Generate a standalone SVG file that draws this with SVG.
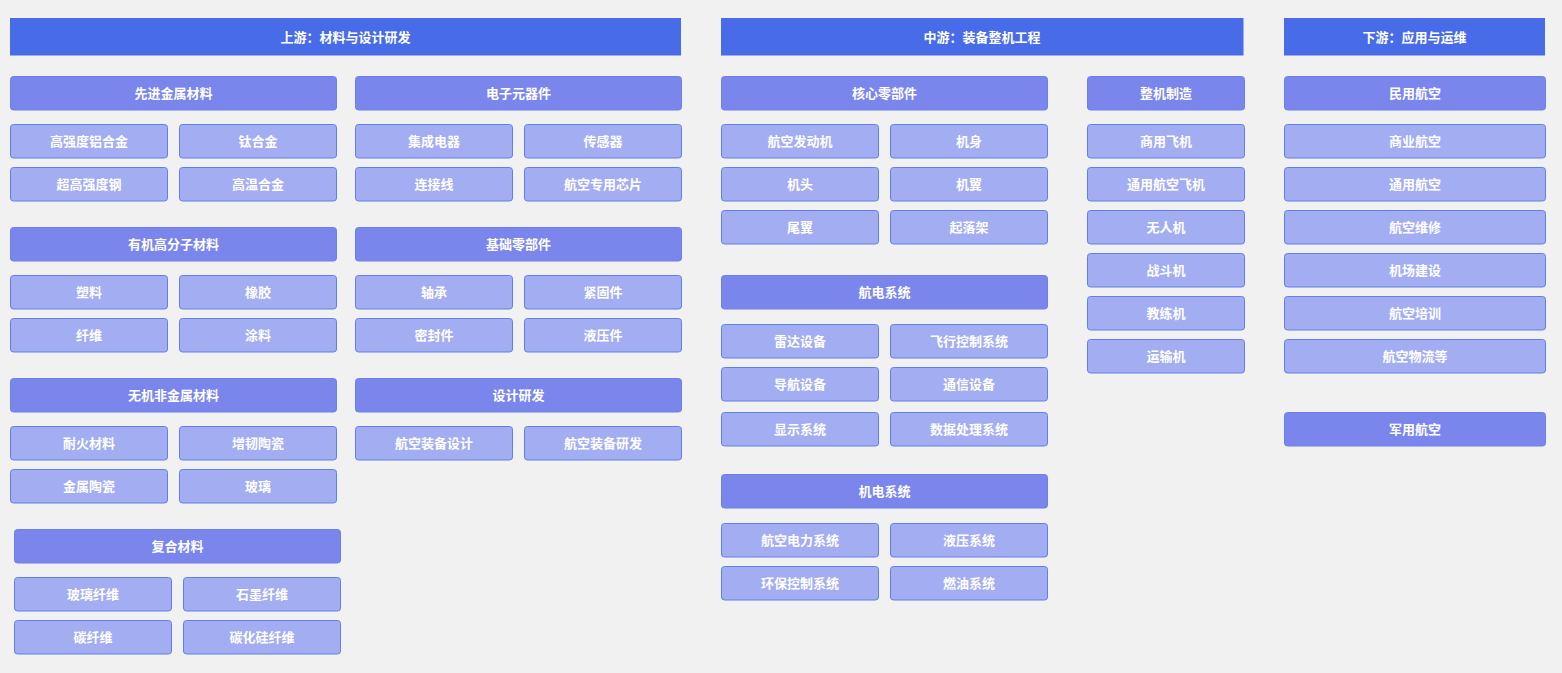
<svg xmlns="http://www.w3.org/2000/svg" width="1562" height="673" viewBox="0 0 1562 673">
<style>
.bg{fill:#f1f1f1}
.hdr{fill:#486be8}
.cat{fill:#7a86ec;stroke:#6a80ea;stroke-width:1}
.item{fill:#a3adf2;stroke:#5f80ea;stroke-width:1}
text{font-family:"Noto Sans CJK SC","Noto Sans",sans-serif;font-weight:bold;font-size:13px;fill:#ffffff;text-anchor:middle;dominant-baseline:central}
</style>
<rect class="bg" x="0" y="0" width="1562" height="673"/>
<g id="connectors"></g>

<!-- Headers -->
<g id="hdr-up"><rect class="hdr" x="10" y="18" width="671" height="37.5"/><text x="345.5" y="36">上游：材料与设计研发</text></g>
<g id="hdr-mid"><rect class="hdr" x="721" y="18" width="522.5" height="37.5"/><text x="982" y="36">中游：装备整机工程</text></g>
<g id="hdr-down"><rect class="hdr" x="1284" y="18" width="261" height="37.5"/><text x="1414.5" y="36">下游：应用与运维</text></g>

<!-- Upstream left column -->
<g id="c-metal"><rect class="cat" x="10.5" y="76.5" width="326" height="33.5" rx="3"/><text x="173.5" y="92.5">先进金属材料</text></g>
<g id="i-alu"><rect class="item" x="10.5" y="124.5" width="157" height="33.5" rx="3"/><text x="89" y="140.5">高强度铝合金</text></g>
<g id="i-ti"><rect class="item" x="179.5" y="124.5" width="157" height="33.5" rx="3"/><text x="258" y="140.5">钛合金</text></g>
<g id="i-steel"><rect class="item" x="10.5" y="167.5" width="157" height="33.5" rx="3"/><text x="89" y="183.5">超高强度钢</text></g>
<g id="i-hta"><rect class="item" x="179.5" y="167.5" width="157" height="33.5" rx="3"/><text x="258" y="183.5">高温合金</text></g>

<g id="c-polymer"><rect class="cat" x="10.5" y="227.5" width="326" height="33.5" rx="3"/><text x="173.5" y="243.5">有机高分子材料</text></g>
<g id="i-plastic"><rect class="item" x="10.5" y="275.5" width="157" height="33.5" rx="3"/><text x="89" y="291.5">塑料</text></g>
<g id="i-rubber"><rect class="item" x="179.5" y="275.5" width="157" height="33.5" rx="3"/><text x="258" y="291.5">橡胶</text></g>
<g id="i-fiber"><rect class="item" x="10.5" y="318.5" width="157" height="33.5" rx="3"/><text x="89" y="334.5">纤维</text></g>
<g id="i-coat"><rect class="item" x="179.5" y="318.5" width="157" height="33.5" rx="3"/><text x="258" y="334.5">涂料</text></g>

<g id="c-inorg"><rect class="cat" x="10.5" y="378.5" width="326" height="33.5" rx="3"/><text x="173.5" y="394.5">无机非金属材料</text></g>
<g id="i-refr"><rect class="item" x="10.5" y="426.5" width="157" height="33.5" rx="3"/><text x="89" y="442.5">耐火材料</text></g>
<g id="i-tcer"><rect class="item" x="179.5" y="426.5" width="157" height="33.5" rx="3"/><text x="258" y="442.5">增韧陶瓷</text></g>
<g id="i-mcer"><rect class="item" x="10.5" y="469.5" width="157" height="33.5" rx="3"/><text x="89" y="485.5">金属陶瓷</text></g>
<g id="i-glass"><rect class="item" x="179.5" y="469.5" width="157" height="33.5" rx="3"/><text x="258" y="485.5">玻璃</text></g>

<g id="c-comp"><rect class="cat" x="14.5" y="529.5" width="326" height="33.5" rx="3"/><text x="177.5" y="545.5">复合材料</text></g>
<g id="i-gf"><rect class="item" x="14.5" y="577.5" width="157" height="33.5" rx="3"/><text x="93" y="593.5">玻璃纤维</text></g>
<g id="i-graph"><rect class="item" x="183.5" y="577.5" width="157" height="33.5" rx="3"/><text x="262" y="593.5">石墨纤维</text></g>
<g id="i-cf"><rect class="item" x="14.5" y="620.5" width="157" height="33.5" rx="3"/><text x="93" y="636.5">碳纤维</text></g>
<g id="i-sic"><rect class="item" x="183.5" y="620.5" width="157" height="33.5" rx="3"/><text x="262" y="636.5">碳化硅纤维</text></g>

<!-- Upstream right column -->
<g id="c-elec"><rect class="cat" x="355.5" y="76.5" width="326" height="33.5" rx="3"/><text x="518.5" y="92.5">电子元器件</text></g>
<g id="i-ic"><rect class="item" x="355.5" y="124.5" width="157" height="33.5" rx="3"/><text x="434" y="140.5">集成电器</text></g>
<g id="i-sensor"><rect class="item" x="524.5" y="124.5" width="157" height="33.5" rx="3"/><text x="603" y="140.5">传感器</text></g>
<g id="i-wire"><rect class="item" x="355.5" y="167.5" width="157" height="33.5" rx="3"/><text x="434" y="183.5">连接线</text></g>
<g id="i-chip"><rect class="item" x="524.5" y="167.5" width="157" height="33.5" rx="3"/><text x="603" y="183.5">航空专用芯片</text></g>

<g id="c-basic"><rect class="cat" x="355.5" y="227.5" width="326" height="33.5" rx="3"/><text x="518.5" y="243.5">基础零部件</text></g>
<g id="i-bearing"><rect class="item" x="355.5" y="275.5" width="157" height="33.5" rx="3"/><text x="434" y="291.5">轴承</text></g>
<g id="i-fast"><rect class="item" x="524.5" y="275.5" width="157" height="33.5" rx="3"/><text x="603" y="291.5">紧固件</text></g>
<g id="i-seal"><rect class="item" x="355.5" y="318.5" width="157" height="33.5" rx="3"/><text x="434" y="334.5">密封件</text></g>
<g id="i-hyd"><rect class="item" x="524.5" y="318.5" width="157" height="33.5" rx="3"/><text x="603" y="334.5">液压件</text></g>

<g id="c-design"><rect class="cat" x="355.5" y="378.5" width="326" height="33.5" rx="3"/><text x="518.5" y="394.5">设计研发</text></g>
<g id="i-des"><rect class="item" x="355.5" y="426.5" width="157" height="33.5" rx="3"/><text x="434" y="442.5">航空装备设计</text></g>
<g id="i-rd"><rect class="item" x="524.5" y="426.5" width="157" height="33.5" rx="3"/><text x="603" y="442.5">航空装备研发</text></g>

<!-- Midstream -->
<g id="c-core"><rect class="cat" x="721.5" y="76.5" width="326" height="33.5" rx="3"/><text x="884.5" y="92.5">核心零部件</text></g>
<g id="i-engine"><rect class="item" x="721.5" y="124.5" width="157" height="33.5" rx="3"/><text x="800" y="140.5">航空发动机</text></g>
<g id="i-body"><rect class="item" x="890.5" y="124.5" width="157" height="33.5" rx="3"/><text x="969" y="140.5">机身</text></g>
<g id="i-nose"><rect class="item" x="721.5" y="167.5" width="157" height="33.5" rx="3"/><text x="800" y="183.5">机头</text></g>
<g id="i-wing"><rect class="item" x="890.5" y="167.5" width="157" height="33.5" rx="3"/><text x="969" y="183.5">机翼</text></g>
<g id="i-tail"><rect class="item" x="721.5" y="210.5" width="157" height="33.5" rx="3"/><text x="800" y="226.5">尾翼</text></g>
<g id="i-gear"><rect class="item" x="890.5" y="210.5" width="157" height="33.5" rx="3"/><text x="969" y="226.5">起落架</text></g>

<g id="c-avionics"><rect class="cat" x="721.5" y="275.5" width="326" height="33.5" rx="3"/><text x="884.5" y="291.5">航电系统</text></g>
<g id="i-radar"><rect class="item" x="721.5" y="324.5" width="157" height="33.5" rx="3"/><text x="800" y="340.5">雷达设备</text></g>
<g id="i-fcs"><rect class="item" x="890.5" y="324.5" width="157" height="33.5" rx="3"/><text x="969" y="340.5">飞行控制系统</text></g>
<g id="i-nav"><rect class="item" x="721.5" y="367.5" width="157" height="33.5" rx="3"/><text x="800" y="383.5">导航设备</text></g>
<g id="i-comm"><rect class="item" x="890.5" y="367.5" width="157" height="33.5" rx="3"/><text x="969" y="383.5">通信设备</text></g>
<g id="i-disp"><rect class="item" x="721.5" y="412.5" width="157" height="33.5" rx="3"/><text x="800" y="428.5">显示系统</text></g>
<g id="i-data"><rect class="item" x="890.5" y="412.5" width="157" height="33.5" rx="3"/><text x="969" y="428.5">数据处理系统</text></g>

<g id="c-mech"><rect class="cat" x="721.5" y="474.5" width="326" height="33.5" rx="3"/><text x="884.5" y="490.5">机电系统</text></g>
<g id="i-power"><rect class="item" x="721.5" y="523.5" width="157" height="33.5" rx="3"/><text x="800" y="539.5">航空电力系统</text></g>
<g id="i-hsys"><rect class="item" x="890.5" y="523.5" width="157" height="33.5" rx="3"/><text x="969" y="539.5">液压系统</text></g>
<g id="i-env"><rect class="item" x="721.5" y="566.5" width="157" height="33.5" rx="3"/><text x="800" y="582.5">环保控制系统</text></g>
<g id="i-fuel"><rect class="item" x="890.5" y="566.5" width="157" height="33.5" rx="3"/><text x="969" y="582.5">燃油系统</text></g>

<g id="c-whole"><rect class="cat" x="1087.5" y="76.5" width="157" height="33.5" rx="3"/><text x="1166" y="92.5">整机制造</text></g>
<g id="i-comm-ac"><rect class="item" x="1087.5" y="124.5" width="157" height="33.5" rx="3"/><text x="1166" y="140.5">商用飞机</text></g>
<g id="i-ga-ac"><rect class="item" x="1087.5" y="167.5" width="157" height="33.5" rx="3"/><text x="1166" y="183.5">通用航空飞机</text></g>
<g id="i-uav"><rect class="item" x="1087.5" y="210.5" width="157" height="33.5" rx="3"/><text x="1166" y="226.5">无人机</text></g>
<g id="i-fighter"><rect class="item" x="1087.5" y="253.5" width="157" height="33.5" rx="3"/><text x="1166" y="269.5">战斗机</text></g>
<g id="i-trainer"><rect class="item" x="1087.5" y="296.5" width="157" height="33.5" rx="3"/><text x="1166" y="312.5">教练机</text></g>
<g id="i-transport"><rect class="item" x="1087.5" y="339.5" width="157" height="33.5" rx="3"/><text x="1166" y="355.5">运输机</text></g>

<!-- Downstream -->
<g id="c-civil"><rect class="cat" x="1284.5" y="76.5" width="261" height="33.5" rx="3"/><text x="1415" y="92.5">民用航空</text></g>
<g id="i-commav"><rect class="item" x="1284.5" y="124.5" width="261" height="33.5" rx="3"/><text x="1415" y="140.5">商业航空</text></g>
<g id="i-genav"><rect class="item" x="1284.5" y="167.5" width="261" height="33.5" rx="3"/><text x="1415" y="183.5">通用航空</text></g>
<g id="i-mro"><rect class="item" x="1284.5" y="210.5" width="261" height="33.5" rx="3"/><text x="1415" y="226.5">航空维修</text></g>
<g id="i-airport"><rect class="item" x="1284.5" y="253.5" width="261" height="33.5" rx="3"/><text x="1415" y="269.5">机场建设</text></g>
<g id="i-train"><rect class="item" x="1284.5" y="296.5" width="261" height="33.5" rx="3"/><text x="1415" y="312.5">航空培训</text></g>
<g id="i-logi"><rect class="item" x="1284.5" y="339.5" width="261" height="33.5" rx="3"/><text x="1415" y="355.5">航空物流等</text></g>
<g id="c-military"><rect class="cat" x="1284.5" y="412.5" width="261" height="33.5" rx="3"/><text x="1415" y="428.5">军用航空</text></g>
</svg>
